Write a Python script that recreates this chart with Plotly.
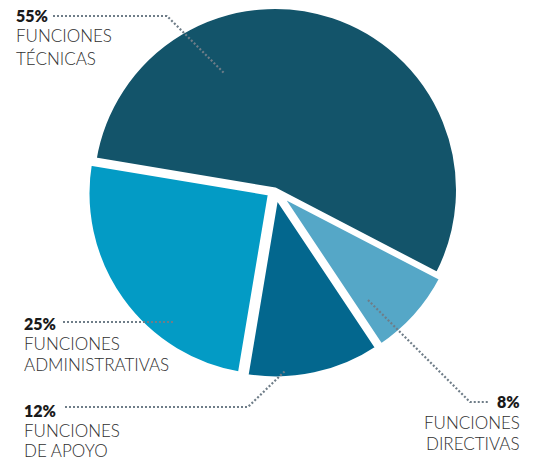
import plotly.graph_objects as go

# ---- data ----
categories = ["FUNCIONES TÉCNICAS", "FUNCIONES DIRECTIVAS", "FUNCIONES DE APOYO", "FUNCIONES ADMINISTRATIVAS"]
values = [55, 8, 12, 25]
percent_labels = ["55%", "8%", "12%", "25%"]
line1 = ["FUNCIONES", "FUNCIONES", "FUNCIONES", "FUNCIONES"]
line2 = ["TÉCNICAS", "DIRECTIVAS", "DE APOYO", "ADMINISTRATIVAS"]
colors = ["#13546a", "#55a7c7", "#03678e", "#039bc5"]

W, H = 535, 465

def px(x):
    return x / W

def py(y):
    return 1 - y / H

# ---- layout helpers (pixel positions of labels) ----
label_x = [14, 522, 22, 22]
label_anchor = ["left", "right", "left", "left"]
label_baselines = [(22, 42, 65), (408, 429, 450), (417, 437, 457), (330, 350, 371)]
leader_paths = [
    [(53, 16), (167, 16), (225, 74)],
    [(368, 300), (470, 402), (488, 402)],
    [(65, 407), (248, 407), (286, 370)],
    [(63, 322), (174, 322)],
]

FONT = "Lato"
cx, cy, D = 275, 190, 378

fig = go.Figure(go.Pie(
    labels=categories,
    values=values,
    sort=False,
    direction="clockwise",
    rotation=-80.5,
    pull=[0, 0.03, 0.03, 0.03],
    marker=dict(colors=colors, line=dict(color="white", width=5)),
    textinfo="none",
    hoverinfo="skip",
    showlegend=False,
    domain=dict(x=[px(cx - D / 2), px(cx + D / 2)], y=[py(cy + D / 2), py(cy - D / 2)]),
))

annotations = []
for i in range(len(values)):
    b0, b1, b2 = label_baselines[i]
    for text, base, bold in [(percent_labels[i], b0, True), (line1[i], b1, False), (line2[i], b2, False)]:
        annotations.append(dict(
            text=text,
            x=px(label_x[i]), y=py(base - 6.5),
            xref="paper", yref="paper",
            xanchor=label_anchor[i], yanchor="middle",
            showarrow=False,
            font=dict(family=FONT, size=16 if bold else 17, color="#1a1a1a" if bold else "#2f2f2f",
                      weight=800 if bold else 300),
        ))

shapes = []
for path in leader_paths:
    d = "M " + " L ".join(f"{px(x):.5f},{py(y):.5f}" for x, y in path)
    shapes.append(dict(type="path", path=d, xref="paper", yref="paper",
                       line=dict(color="#6f7d88", width=2.2, dash="2px,2px")))

fig.update_layout(
    width=W, height=H,
    margin=dict(l=0, r=0, t=0, b=0),
    paper_bgcolor="white",
    plot_bgcolor="white",
    annotations=annotations,
    shapes=shapes,
)

fig.write_html("out.html", config={"displayModeBar": False},
               post_script="document.body.style.margin='0';")
